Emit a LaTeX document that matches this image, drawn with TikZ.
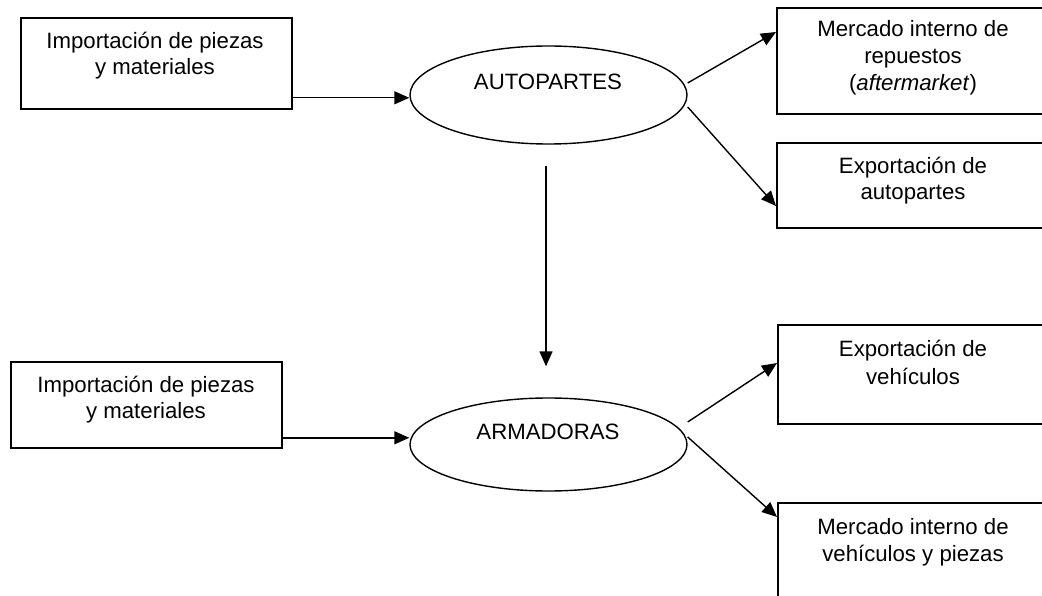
\documentclass[tikz,border=0pt]{standalone}
\usepackage{fontspec}
\setmainfont{Liberation Sans}
\usetikzlibrary{arrows.meta,shapes.geometric}
\begin{document}
\begin{tikzpicture}[x=1pt,y=-1pt,
  boxst/.style={draw=black,line width=1.6pt,rectangle,inner sep=0pt,anchor=north west},
  ellst/.style={draw=black,line width=1.4pt,ellipse,inner sep=0pt,minimum width=277pt},
  txt/.style={align=center,inner sep=0pt,font=\fontsize{22.2}{26}\selectfont},
  arr/.style={line width=1.4pt,-{Triangle[length=15pt,width=13pt]}}]
\useasboundingbox (0,0) rectangle (1042,596);
% left boxes
\node[boxst,minimum width=271pt,minimum height=91pt] (imp1) at (20,17) {};
\node[txt] (imp1t) at (155,55.5) {Importación de piezas\\y materiales};
\node[boxst,minimum width=271pt,minimum height=86pt] (imp2) at (10,361) {};
\node[txt] (imp2t) at (146,399.5) {Importación de piezas\\y materiales};
% ellipses
\node[ellst,minimum height=98pt] (auto) at (548.5,95) {};
\node[txt] (autot) at (548,82) {AUTOPARTES};
\node[ellst,minimum height=93pt] (arm) at (548.5,444.5) {};
\node[txt] (armt) at (548,432) {ARMADORAS};
% right boxes
\node[boxst,minimum width=290pt,minimum height=106pt] (m1) at (776,7) {};
\node[txt,font=\fontsize{22.2}{27}\selectfont] (m1t) at (913,58) {Mercado interno de\\repuestos\\(\textit{aftermarket})};
\node[boxst,minimum width=290pt,minimum height=85pt] (e1) at (776,142) {};
\node[txt] (e1t) at (913,181) {Exportación de\\autopartes};
\node[boxst,minimum width=290pt,minimum height=99pt] (e2) at (777,324) {};
\node[txt,font=\fontsize{22.2}{28}\selectfont] (e2t) at (913,362) {Exportación de\\vehículos};
\node[boxst,minimum width=290pt,minimum height=130pt] (m2) at (777,502) {};
\node[txt,font=\fontsize{22.2}{27}\selectfont] (m2t) at (913,542) {Mercado interno de\\vehículos y piezas};
% connectors
\coordinate (a1) at ([yshift=-34.5pt]imp1.east);
\draw[arr] (a1) -- (a1 -| auto.west);
\coordinate (a2) at ([yshift=-33pt]imp2.east);
\draw[arr] (a2) -- (a2 -| arm.west);
\draw[arr] ([xshift=-2.5pt,yshift=-21pt]auto.south) -- ([xshift=-2.5pt,yshift=31pt]arm.north);
\draw[arr] ([yshift=12pt]auto.east) -- ([yshift=-25pt]m1.north west);
\draw[arr] ([yshift=-12pt]auto.east) -- ([yshift=-64pt]e1.north west);
\draw[arr] ([yshift=22.5pt]arm.east) -- ([yshift=-39pt]e2.north west);
\draw[arr] ([yshift=7.5pt]arm.east) -- ([yshift=-15pt]m2.north west);
\end{tikzpicture}
\end{document}
